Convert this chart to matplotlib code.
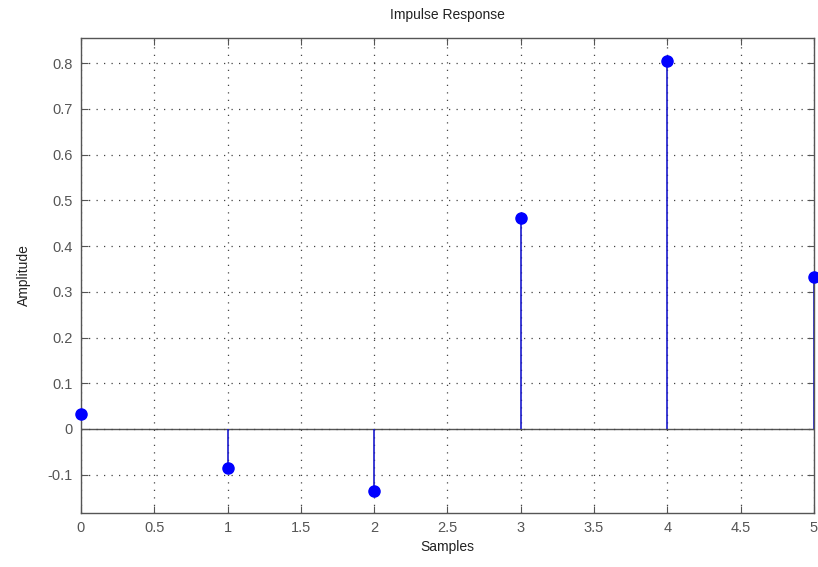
import matplotlib
matplotlib.use("Agg")
import matplotlib.pyplot as plt
import numpy as np

# Impulse response samples
samples = [0, 1, 2, 3, 4, 5]
amplitude = [0.033, -0.085, -0.136, 0.461, 0.804, 0.332]

xticks = [0, 0.5, 1, 1.5, 2, 2.5, 3, 3.5, 4, 4.5, 5]
yticks = [-0.1, 0, 0.1, 0.2, 0.3, 0.4, 0.5, 0.6, 0.7, 0.8]

plt.rcParams["font.family"] = ["Liberation Sans", "DejaVu Sans"]
gray = "#555555"

fig = plt.figure(figsize=(8.18, 5.67), dpi=100)
ax = fig.add_axes([0.099, 0.095, 0.896, 0.838])

ax.axhline(0, color=gray, lw=1.0, zorder=1)
ax.vlines(samples, 0, amplitude, color="#1a1acc", lw=1.2, zorder=2)
ax.plot(samples, amplitude, "o", color="#0000ff", ms=8, zorder=3, clip_on=False)

ax.set_xlim(0, 5)
ax.set_ylim(-0.184, 0.855)
ax.set_xticks(xticks)
ax.set_xticklabels([f"{t:g}" for t in xticks])
ax.set_yticks(yticks)
ax.set_yticklabels([f"{t:g}" for t in yticks])
ax.grid(True, linestyle=(0, (1, 5)), color="#444444", lw=0.9)
ax.tick_params(direction="in", length=5, colors=gray, labelsize=10.5, pad=6,
               top=True, right=True, labeltop=False, labelright=False)
for s in ax.spines.values():
    s.set_color(gray)
    s.set_linewidth(1.0)

ax.set_title("Impulse Response", fontsize=10, color="#222222", pad=14)
ax.set_xlabel("Samples", fontsize=10, color="#222222", labelpad=3)
ax.set_ylabel("Amplitude", fontsize=10, color="#222222", labelpad=12)

fig.savefig("out.png", dpi=100)
